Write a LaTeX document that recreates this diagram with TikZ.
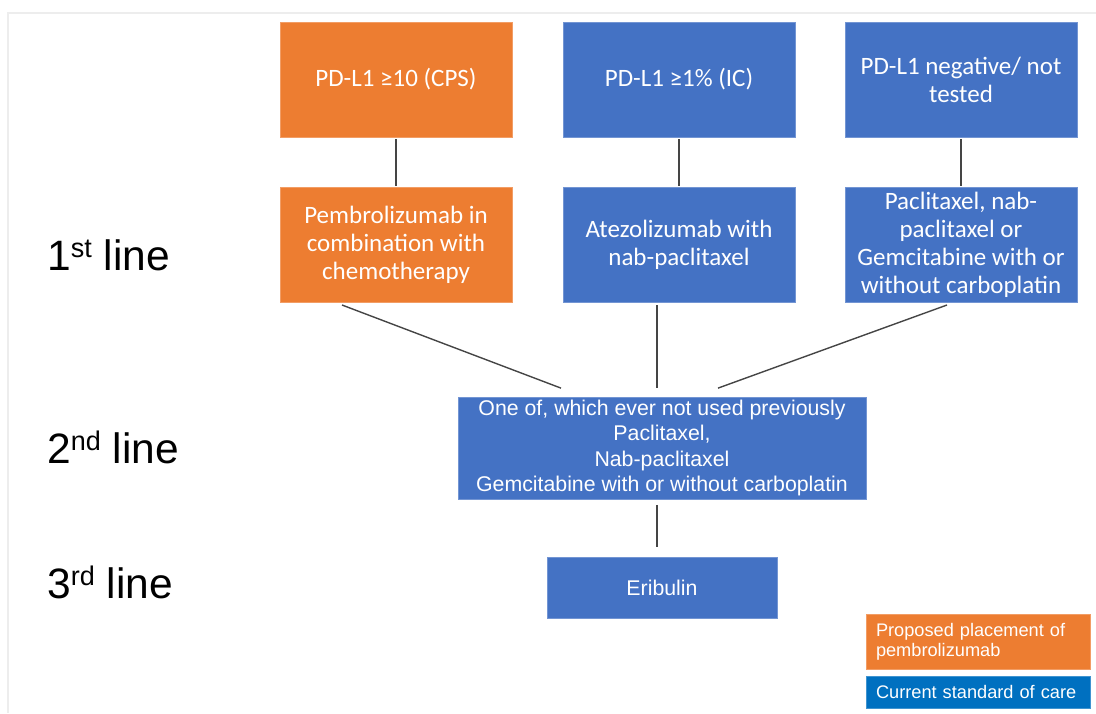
\documentclass[tikz,border=0pt]{standalone}
\usepackage{fontspec}
\setmainfont{Carlito}
\newfontfamily\arialf{Liberation Sans}
\usetikzlibrary{calc}
\definecolor{orng}{HTML}{ED7D31}
\definecolor{blu}{HTML}{4472C4}
\definecolor{legblu}{HTML}{0070C0}
\definecolor{lnk}{HTML}{454545}
\definecolor{frm}{HTML}{EDEDED}
\begin{document}
\begin{tikzpicture}[x=1pt,y=-1pt,
  box/.style={rectangle, minimum width=232pt, minimum height=115pt, inner sep=3pt, outer sep=0pt,
    text=white, align=center, font=\fontsize{25}{28}\selectfont,
    draw=#1!75!white, line width=0.6pt, fill=#1},
  abox/.style={rectangle, inner sep=3pt, outer sep=0pt, text=white, align=center,
    font=\arialf\fontsize{21.3}{25.3}\selectfont, draw=#1!75!white, line width=0.6pt, fill=#1},
  legbox/.style={rectangle, minimum width=224pt, inner xsep=10pt, inner ysep=2pt, outer sep=0pt,
    text width=204pt, align=left, text=white, font=\arialf\fontsize{18.2}{20}\selectfont,
    draw=#1!75!white, line width=0.6pt, fill=#1},
  lvl/.style={anchor=base west, inner sep=0pt, font=\arialf\fontsize{42.5}{46}\selectfont},
  conn/.style={draw=lnk, line width=1.4pt}
]
\useasboundingbox (0,0) rectangle (1096,713);
% frame
\draw[frm, line width=1.7pt] (8.2,713) -- (8.2,13.2) -- (1096,13.2);

% level labels
\node[lvl] (l1) at (47,270) {1\raisebox{13pt}{\fontsize{27}{27}\selectfont st} line};
\node[lvl] (l2) at (47,463) {2\raisebox{13pt}{\fontsize{27}{27}\selectfont nd} line};
\node[lvl] (l3) at (47,598) {3\raisebox{13pt}{\fontsize{27}{27}\selectfont rd} line};

% top row
\node[box=orng] (t1) at (396,79.5) {PD-L1 ≥10 (CPS)};
\node[box=blu] (t2) at (679,79.5) {PD-L1 ≥1\% (IC)};
\node[box=blu] (t3) at (961,79.5) {PD-L1 negative/ not\\tested};

% second row
\node[box=orng] (s1) at (396,244.5) {Pembrolizumab in\\combination with\\chemotherapy};
\node[box=blu] (s2) at (679,244.5) {Atezolizumab with\\nab-paclitaxel};
\node[box=blu] (s3) at (961,244.5) {Paclitaxel, nab-\\paclitaxel or\\Gemcitabine with or\\without carboplatin};

% second line
\node[abox=blu, minimum width=408pt, minimum height=100pt] (m) at (662,448)
  {One of, which ever not used previously\\Paclitaxel,\\Nab-paclitaxel\\Gemcitabine with or without carboplatin};

% third line
\node[abox=blu, minimum width=230pt, minimum height=61pt] (e) at (662,587.5) {Eribulin};

% legend
\node[legbox=orng, minimum height=55pt] (g1) at (978,641.5) {Proposed placement of\\pembrolizumab};
\node[legbox=legblu, minimum height=32pt] (g2) at (978,692) {Current standard of care};

% connectors
\draw[conn] ($(t1.south)+(0,2)$) -- ($(s1.north)+(0,-1)$);
\draw[conn] ($(t2.south)+(0,2)$) -- ($(s2.north)+(0,-1)$);
\draw[conn] ($(t3.south)+(0,2)$) -- ($(s3.north)+(0,-1)$);
\draw[conn] ($(s1.south)+(-54,3)$) -- ($(m.north)+(-101,-9)$);
\draw[conn] ($(s2.south)+(-22,3)$) -- ($(m.north)+(-5,-9)$);
\draw[conn] ($(s3.south)+(-14,3)$) -- ($(m.north)+(56,-9)$);
\draw[conn] ($(m.south)+(-5,6)$) -- ($(e.north)+(-5,-10)$);
\end{tikzpicture}
\end{document}
